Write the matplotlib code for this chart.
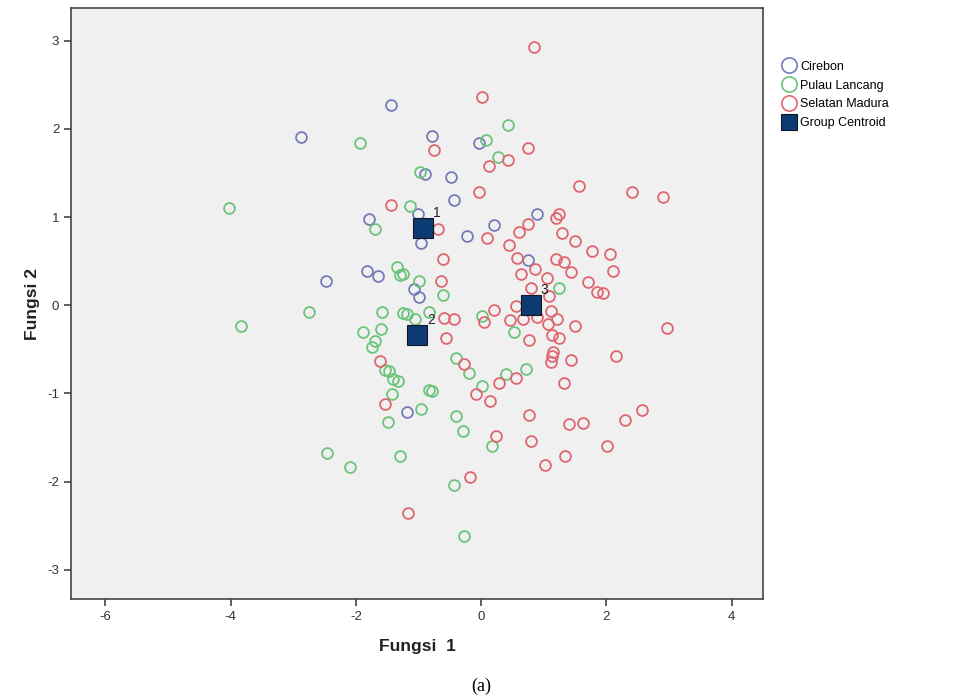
import matplotlib
matplotlib.use("Agg")
import matplotlib.pyplot as plt
from matplotlib.lines import Line2D

plt.rcParams['font.family'] = ['Liberation Sans', 'DejaVu Sans']

# ---- data ----
cirebon_x = [-1.44, -2.88, -0.79, -0.89, -0.48, -0.44, -0.04, -1.79, -0.96, -1.83,
             -1.65, -2.48, -1.07, -1.00, 0.89, 0.21, -0.23, 0.75, -1.18, -1.01]
cirebon_y = [2.27, 1.91, 1.92, 1.49, 1.45, 1.19, 1.84, 0.98, 0.71, 0.39,
             0.33, 0.27, 0.18, 0.09, 1.03, 0.91, 0.78, 0.51, -1.21, 1.03]

lancang_x = [-1.93, -0.97, -4.03, -1.13, 0.43, 0.07, 0.27, -1.70, -1.35, -1.29,
             -1.25, -1.00, -0.61, -2.75, -3.84, -1.59, -1.25, -1.18, -1.05, -0.83,
             -1.88, -1.60, -1.69, -1.75, -1.54, -1.47, -1.41, -1.33, -0.40, 1.25,
             0.01, 0.52, -0.19, 0.71, 0.40, 0.01, -0.84, -0.78, -1.43, -0.96,
             -1.49, -0.40, -0.29, -2.47, -2.10, -1.29, -0.44, -0.27, 0.17]
lancang_y = [1.84, 1.51, 1.10, 1.13, 2.04, 1.87, 1.68, 0.86, 0.43, 0.34,
             0.36, 0.27, 0.12, -0.08, -0.23, -0.08, -0.09, -0.10, -0.15, -0.08,
             -0.30, -0.27, -0.41, -0.47, -0.73, -0.75, -0.83, -0.86, -0.60, 0.20,
             -0.12, -0.30, -0.77, -0.72, -0.78, -0.91, -0.96, -0.97, -1.01, -1.18,
             -1.32, -1.25, -1.42, -1.67, -1.83, -1.71, -2.04, -2.61, -1.60]

madura_x = [-0.75, -1.44, 0.84, 0.02, 0.74, 0.42, 0.13, -0.03, 1.56, 2.40,
            2.90, -0.69, -0.61, -0.65, -0.59, -0.43, -0.57, -1.61, 1.24, 1.19,
            0.75, 0.61, 0.09, 1.29, 1.49, 0.44, 1.77, 2.06, 0.57, 1.20,
            1.33, 1.43, 0.86, 0.63, 2.11, 1.05, 1.71, 1.85, 1.94, 0.79,
            1.08, 0.55, 0.21, 1.11, 0.05, 0.46, 0.67, 0.89, 1.21, 1.07,
            1.50, 2.96, 1.13, 1.24, 0.77, 1.14, 1.13, 1.12, 1.43, 2.16,
            -0.27, 0.55, 0.29, 1.33, -0.08, 0.14, 0.77, 1.40, 1.62, 2.30,
            2.57, 0.23, 0.79, 2.01, 1.34, 1.02, -0.18, -1.53, -1.17]
madura_y = [1.76, 1.14, 2.93, 2.36, 1.78, 1.65, 1.58, 1.29, 1.35, 1.29,
            1.23, 0.86, 0.53, 0.27, -0.14, -0.15, -0.37, -0.63, 1.04, 0.99,
            0.92, 0.83, 0.76, 0.82, 0.73, 0.68, 0.61, 0.58, 0.54, 0.53,
            0.49, 0.38, 0.41, 0.36, 0.39, 0.31, 0.26, 0.15, 0.14, 0.20,
            0.11, -0.01, -0.05, -0.06, -0.19, -0.17, -0.16, -0.13, -0.15, -0.21,
            -0.23, -0.26, -0.34, -0.37, -0.39, -0.53, -0.58, -0.64, -0.62, -0.57,
            -0.67, -0.82, -0.88, -0.88, -1.01, -1.08, -1.24, -1.35, -1.33, -1.30,
            -1.19, -1.48, -1.54, -1.60, -1.71, -1.81, -1.95, -1.12, -2.36]

centroid_x = [-0.93, -1.02, 0.79]
centroid_y = [0.88, -0.34, 0.00]
centroid_labels = ["1", "2", "3"]

group_names = ["Cirebon", "Pulau Lancang", "Selatan Madura"]
x_ticks = [-6, -4, -2, 0, 2, 4]
y_ticks = [-3, -2, -1, 0, 1, 2, 3]

# ---- style ----
col_blue = '#747cba'
col_green = '#6cc47c'
col_red = '#e06670'
col_cent = '#0c3a72'

fig = plt.figure(figsize=(9.64, 6.98), dpi=100)
ax = fig.add_axes([0.0737, 0.1418, 0.7178, 0.8467])
ax.set_facecolor('#f0f0f0')

ms = 7.8
for xs, ys, c in [(cirebon_x, cirebon_y, col_blue),
                  (lancang_x, lancang_y, col_green),
                  (madura_x, madura_y, col_red)]:
    ax.plot(xs, ys, linestyle='none', marker='o', markersize=ms,
            markerfacecolor='none', markeredgecolor=c, markeredgewidth=1.3)

ax.plot(centroid_x, centroid_y, linestyle='none', marker='s', markersize=14,
        markerfacecolor=col_cent, markeredgecolor='#101828', markeredgewidth=0.8)
for cx, cy, lab in zip(centroid_x, centroid_y, centroid_labels):
    ax.annotate(lab, (cx, cy), xytext=(7, 8), textcoords='offset points',
                fontsize=10, color='#222222')

ax.set_xlim(-6.55, 4.5)
ax.set_ylim(-3.33, 3.37)
ax.set_xticks(x_ticks)
ax.set_yticks(y_ticks)
ax.set_xticklabels([str(t) for t in x_ticks])
ax.set_yticklabels([str(t) for t in y_ticks])
ax.tick_params(direction='out', length=5, width=1.2, color='#444444',
               labelsize=9.5, labelcolor='#333333')
for s in ax.spines.values():
    s.set_color('#444444')
    s.set_linewidth(1.2)

ax.set_xlabel('Fungsi  1', fontsize=12.5, fontweight='bold', color='#222222', labelpad=12)
ax.set_ylabel('Fungsi 2', fontsize=12.5, fontweight='bold', color='#222222', labelpad=5)

fig.text(0.499, 0.005, '(a)', fontsize=13, family=['Liberation Serif', 'DejaVu Serif'],
         ha='center', va='bottom', color='black')

handles = [
    Line2D([], [], linestyle='none', marker='o', markersize=11, markerfacecolor='none',
           markeredgecolor=col_blue, markeredgewidth=1.2),
    Line2D([], [], linestyle='none', marker='o', markersize=11, markerfacecolor='none',
           markeredgecolor=col_green, markeredgewidth=1.2),
    Line2D([], [], linestyle='none', marker='o', markersize=11, markerfacecolor='none',
           markeredgecolor=col_red, markeredgewidth=1.2),
    Line2D([], [], linestyle='none', marker='s', markersize=11, markerfacecolor=col_cent,
           markeredgecolor='#101828', markeredgewidth=0.8),
]
labels = group_names + ["Group Centroid"]
fig.legend(handles, labels, loc='upper left', bbox_to_anchor=(0.806, 0.922),
           frameon=False, fontsize=9, handlelength=0.9, handletextpad=0.45,
           labelspacing=0.55, borderpad=0)

fig.savefig('out.png', dpi=100)
